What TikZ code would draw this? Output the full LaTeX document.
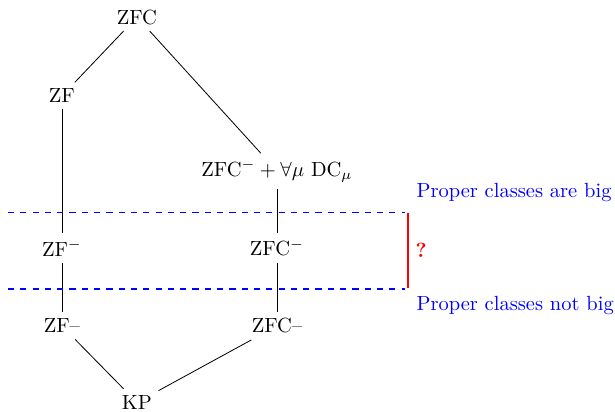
\documentclass[tikz,border=0pt]{standalone}
\begin{document}
\begin{tikzpicture}[x=1pt,y=-1pt,
  theory/.style={inner sep=3pt},
  link/.style={draw=black,line width=0.4pt},
  sepline/.style={draw=blue,dashed,line width=0.6pt},
  lbl/.style={text=blue,anchor=west,inner sep=0pt}]
\useasboundingbox (0,0) rectangle (300,200.5);
\node[theory] (zfc) at (66.8,8.3) {ZFC};
\node[theory] (zf) at (30.2,46.8) {ZF};
\node[theory] (zfcdc) at (135.1,83.4) {ZFC$^-+\forall\mu\ \mathrm{DC}_\mu$};
\node[theory] (zfm) at (30.2,121) {ZF$^-$};
\node[theory] (zfcm) at (135.1,121) {ZFC$^-$};
\node[theory] (zfd) at (30.2,159) {ZF--};
\node[theory] (zfcd) at (135.1,159) {ZFC--};
\node[theory] (kp) at (66.8,196.3) {KP};
\draw[link] (zfc) -- (zf);
\draw[link] (zfc) -- (zfcdc);
\draw[link] (zf) -- (zfm);
\draw[link] (zfm) -- (zfd);
\draw[link] (zfcdc) -- (zfcm);
\draw[link] (zfcm) -- (zfcd);
\draw[link] (zfd) -- (kp);
\draw[link] (zfcd) -- (kp);
\coordinate (a1) at (3.9,103.5);
\coordinate (a2) at (197.6,103.5);
\coordinate (b1) at (3.9,141);
\coordinate (b2) at (197.6,141);
\draw[sepline] (a1) -- (a2);
\draw[sepline] (b1) -- (b2);
\coordinate (r1) at (199,103.9);
\coordinate (r2) at (199,140.6);
\draw[draw=red,line width=0.8pt] (r1) -- (r2);
\node[text=red,anchor=west,inner sep=0pt] (q) at (202.5,122.2) {\textbf{?}};
\node[lbl] (big) at (203,94) {Proper classes are big};
\node[lbl] (notbig) at (203,148.8) {Proper classes not big};
\end{tikzpicture}
\end{document}
